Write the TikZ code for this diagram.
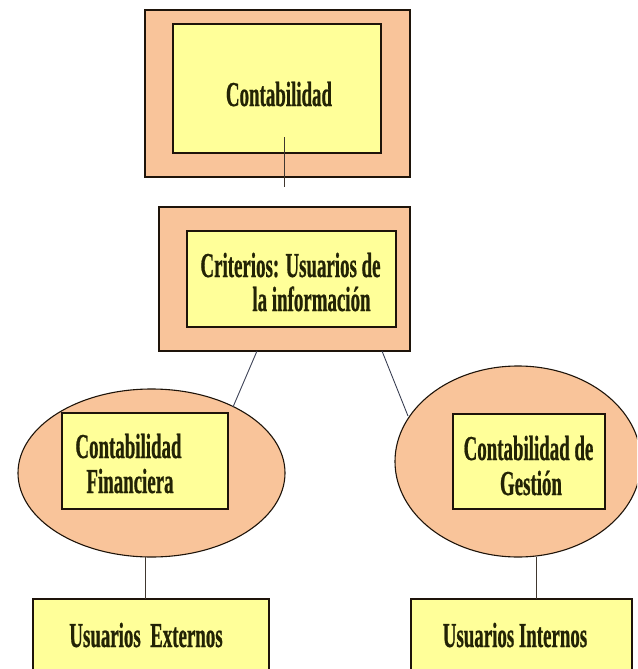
\documentclass[tikz,border=0pt]{standalone}
\usepackage{fontspec}
\newfontfamily\condfont[FakeStretch=0.54,FakeBold=0.6]{Liberation Serif}
\usetikzlibrary{shapes.geometric}
\definecolor{peach}{RGB}{249,196,154}
\definecolor{paleyellow}{RGB}{255,255,153}
\definecolor{inkcol}{RGB}{35,35,5}
\definecolor{edgecol}{RGB}{30,20,10}
\definecolor{linkcol}{RGB}{60,65,85}
\begin{document}
\begin{tikzpicture}[x=1pt,y=-1pt,
  outerbox/.style={draw=edgecol, line width=1.2pt, fill=peach, inner sep=0pt, outer sep=0pt, anchor=north west},
  innerbox/.style={draw=edgecol, line width=1.6pt, fill=paleyellow, inner sep=0pt, outer sep=0pt, anchor=north west},
  oval/.style={ellipse, draw=edgecol, line width=1.1pt, fill=peach, inner sep=0pt, outer sep=0pt},
  txt/.style={font=\condfont\bfseries\fontsize{35}{35}\selectfont, text=inkcol, inner sep=0pt, anchor=base},
  link/.style={draw=linkcol, line width=0.9pt},
  vlink/.style={draw=edgecol!85, line width=1pt}]
\useasboundingbox (0,0) rectangle (637,669);
\clip (0,0) rectangle (637,669);
\fill[white] (0,0) rectangle (637,669);

% top
\node[outerbox, minimum width=265pt, minimum height=167pt] (o1) at (145,10) {};
\node[innerbox, minimum width=208pt, minimum height=129pt] (i1) at (173,24) {};
\node[txt] (t1) at (279,106) {Contabilidad};

% criteria
\node[outerbox, minimum width=251pt, minimum height=144pt] (o2) at (159,207) {};
\node[innerbox, minimum width=209pt, minimum height=96pt] (i2) at (187,231) {};
\node[txt] (t2a) at (290.5,277) {Criterios: Usuarios de};
\node[txt] (t2b) at (311.5,311) {la información};

% left branch
\node[oval, minimum width=267pt, minimum height=168pt] (le) at (151.5,473) {};
\node[innerbox, minimum width=166pt, minimum height=96pt] (lb) at (62,413) {};
\node[txt] (l1) at (128.5,458) {Contabilidad};
\node[txt] (l2) at (130,493) {Financiera};

% right branch
\node[oval, minimum width=246pt, minimum height=191pt] (re) at (518,461.5) {};
\node[innerbox, minimum width=152pt, minimum height=95pt] (rb) at (453,414) {};
\node[txt] (r1) at (528.5,460) {Contabilidad de};
\node[txt] (r2) at (531,495) {Gestión};

% bottom boxes
\node[innerbox, minimum width=236pt, minimum height=90pt] (ue) at (33,599) {};
\node[txt] (uet) at (146,647) {Usuarios\ \ Externos};
\node[innerbox, minimum width=221pt, minimum height=90pt] (ui) at (411,599) {};
\node[txt] (uit) at (515,647) {Usuarios Internos};

% connectors
\coordinate (c1a) at (284.5,137);
\coordinate (c1b) at (284.5,187);
\coordinate (c2a) at (257,351);
\coordinate (c2b) at (233,407);
\coordinate (c3a) at (382,351);
\coordinate (c3b) at (408,416);
\coordinate (c4a) at (145,557);
\coordinate (c4b) at (145,599);
\coordinate (c5a) at (536,557);
\coordinate (c5b) at (536,599);
\draw[vlink] (c1a) -- (c1b);
\draw[link] (c2a) -- (c2b);
\draw[link] (c3a) -- (c3b);
\draw[vlink] (c4a) -- (c4b);
\draw[vlink] (c5a) -- (c5b);
\end{tikzpicture}
\end{document}
